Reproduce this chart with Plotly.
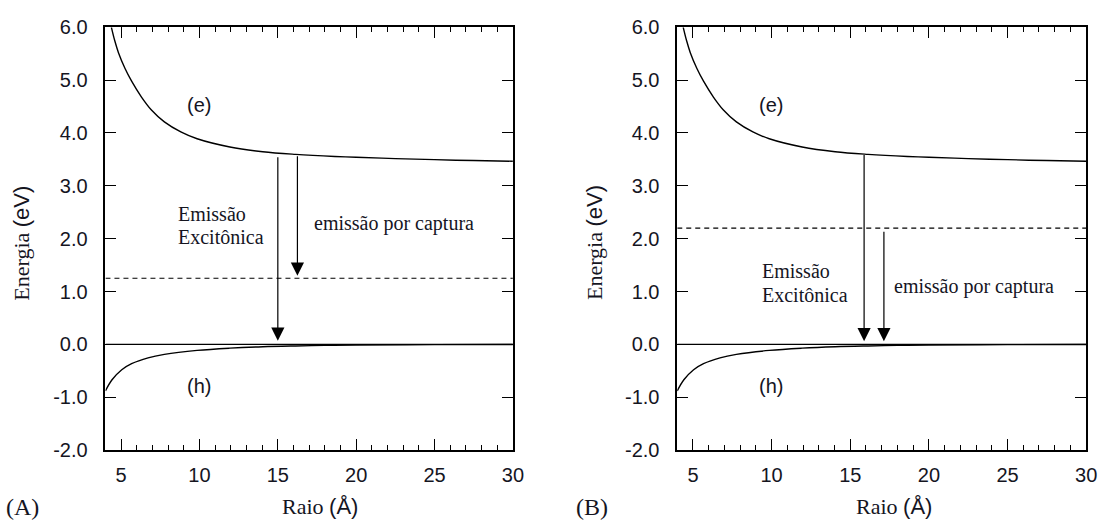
import plotly.graph_objects as go

# ---------------- data ----------------
# electron confinement energy (e) vs radius
e_radius = [4.38, 4.6, 4.83, 5.25, 5.67, 6.3, 6.92, 7.76, 8.81, 9.85, 11.94, 14.04,
            16.13, 18.64, 20.0, 22.5, 25.0, 27.5, 30.0]
e_energy = [6.0, 5.74, 5.52, 5.22, 4.98, 4.68, 4.44, 4.21, 4.02, 3.89, 3.735, 3.645,
            3.595, 3.555, 3.54, 3.515, 3.495, 3.478, 3.465]
# hole confinement energy (h) vs radius
h_radius = [4.0, 4.42, 5.04, 5.67, 6.72, 7.76, 9.85, 11.94, 14.04, 16.13, 18.0, 20.0,
            25.0, 30.0]
h_energy = [-0.88, -0.67, -0.48, -0.365, -0.255, -0.19, -0.115, -0.072, -0.045, -0.03,
            -0.02, -0.013, -0.006, -0.003]

# trap level (dashed) per panel
trap_level = [1.25, 2.2]
# arrows per panel: x, start energy, end energy
exc_arrow_x = [15.0, 15.88]
exc_arrow_from = [3.57, 3.61]
exc_arrow_to = [0.07, 0.06]
cap_arrow_x = [16.25, 17.14]
cap_arrow_from = [3.59, 2.16]
cap_arrow_to = [1.3, 0.06]

panel_labels = ["(A)", "(B)"]
x_range = [4, 30]
y_range = [-2, 6]
x_tick_vals = [5, 10, 15, 20, 25, 30]
y_tick_vals = [-2, -1, 0, 1, 2, 3, 4, 5, 6]
y_tick_text = ["-2.0", "-1.0", "0.0", "1.0", "2.0", "3.0", "4.0", "5.0", "6.0"]

# ---------------- layout geometry ----------------
W, H = 1115, 531
x_domains = [[106.5 / W, 518 / W], [684 / W, 1097 / W]]
y_domain = [1 - 458 / H, 1 - 17 / H]

INK = "#15151f"
SANS = "Liberation Sans, Arial, sans-serif"
SERIF = "Liberation Serif, Times New Roman, serif"

fig = go.Figure()
annotations = []

for i in range(2):
    xa = "x" if i == 0 else "x2"
    ya = "y" if i == 0 else "y2"
    fig.add_trace(go.Scatter(x=x_range, y=[0, 0], mode="lines", xaxis=xa, yaxis=ya,
                             line=dict(color="black", width=1.1), showlegend=False, hoverinfo="skip"))
    fig.add_trace(go.Scatter(x=x_range, y=[trap_level[i], trap_level[i]], mode="lines", xaxis=xa, yaxis=ya,
                             line=dict(color="black", width=1.1, dash="5px,4px"), showlegend=False,
                             hoverinfo="skip"))
    fig.add_trace(go.Scatter(x=e_radius, y=e_energy, mode="lines", xaxis=xa, yaxis=ya,
                             line=dict(color="black", width=1.4, shape="spline", smoothing=1.0),
                             showlegend=False, hoverinfo="skip"))
    fig.add_trace(go.Scatter(x=h_radius, y=h_energy, mode="lines", xaxis=xa, yaxis=ya,
                             line=dict(color="black", width=1.4, shape="spline", smoothing=1.0),
                             showlegend=False, hoverinfo="skip"))

    for ax_x, y0, y1 in [(exc_arrow_x[i], exc_arrow_from[i], exc_arrow_to[i]),
                         (cap_arrow_x[i], cap_arrow_from[i], cap_arrow_to[i])]:
        annotations.append(dict(x=ax_x, y=y1, ax=ax_x, ay=y0, xref=xa, yref=ya, axref=xa, ayref=ya,
                                text="", showarrow=True, arrowhead=2, arrowsize=2.2, arrowwidth=1.2,
                                arrowcolor="black", standoff=0, startstandoff=0))

    annotations.append(dict(x=9.95, y=4.53, xref=xa, yref=ya, text="(e)", showarrow=False,
                            font=dict(family=SANS, size=20, color=INK)))
    annotations.append(dict(x=9.95, y=-0.78, xref=xa, yref=ya, text="(h)", showarrow=False,
                            font=dict(family=SANS, size=20, color=INK)))

annotations += [
    dict(x=178 / W, y=1 - 212 / H, xref="paper", yref="paper", xanchor="left", yanchor="middle",
         text="Emissão", showarrow=False, font=dict(family=SERIF, size=20, color=INK)),
    dict(x=178 / W, y=1 - 236 / H, xref="paper", yref="paper", xanchor="left", yanchor="middle",
         text="Excitônica", showarrow=False, font=dict(family=SERIF, size=20, color=INK)),
    dict(x=315 / W, y=1 - 222 / H, xref="paper", yref="paper", xanchor="left", yanchor="middle",
         text="emissão por captura", showarrow=False, font=dict(family=SERIF, size=20, color=INK)),
    dict(x=768 / W, y=1 - 271 / H, xref="paper", yref="paper", xanchor="left", yanchor="middle",
         text="Emissão", showarrow=False, font=dict(family=SERIF, size=20, color=INK)),
    dict(x=768 / W, y=1 - 296 / H, xref="paper", yref="paper", xanchor="left", yanchor="middle",
         text="Excitônica", showarrow=False, font=dict(family=SERIF, size=20, color=INK)),
    dict(x=901 / W, y=1 - 287 / H, xref="paper", yref="paper", xanchor="left", yanchor="middle",
         text="emissão por captura", showarrow=False, font=dict(family=SERIF, size=20, color=INK)),
]

for i in range(2):
    annotations.append(dict(x=[323, 903][i] / W, y=1 - 517 / H, xref="paper", yref="paper",
                            xanchor="center", yanchor="middle", showarrow=False,
                            text='Raio <span style="font-family:Liberation Sans, Arial">(Å)</span>',
                            font=dict(family=SERIF, size=22, color=INK)))
    annotations.append(dict(x=[22, 601][i] / W, y=1 - 242 / H, xref="paper", yref="paper",
                            xanchor="center", yanchor="middle", showarrow=False, textangle=-90,
                            text='Energia <span style="font-family:Liberation Sans, Arial">(eV)</span>',
                            font=dict(family=SERIF, size=22, color=INK)))
    annotations.append(dict(x=[4, 580][i] / W, y=1 - 517 / H, xref="paper", yref="paper",
                            xanchor="left", yanchor="middle", showarrow=False,
                            text=panel_labels[i], font=dict(family=SERIF, size=24, color=INK)))


def xaxis_cfg(dom, anchor):
    return dict(domain=dom, anchor=anchor, range=x_range, tickmode="array", tickvals=x_tick_vals,
                ticks="inside", ticklen=11, tickwidth=1.2, tickcolor="black",
                minor=dict(ticks="inside", ticklen=5, tickwidth=1.1, tickcolor="black",
                           tickmode="linear", tick0=4, dtick=1),
                showline=True, linecolor="black", linewidth=1.6, mirror="ticks",
                showgrid=False, zeroline=False, ticklabelstandoff=6,
                tickfont=dict(family=SANS, size=20, color=INK))


def yaxis_cfg(anchor):
    return dict(domain=y_domain, anchor=anchor, range=y_range, tickmode="array",
                tickvals=y_tick_vals, ticktext=y_tick_text,
                ticks="inside", ticklen=11, tickwidth=1.2, tickcolor="black",
                showline=True, linecolor="black", linewidth=1.6, mirror="ticks",
                showgrid=False, zeroline=False, ticklabelstandoff=12,
                tickfont=dict(family=SANS, size=20, color=INK))


fig.update_layout(
    width=W, height=H, margin=dict(l=0, r=0, t=0, b=0),
    paper_bgcolor="white", plot_bgcolor="white", showlegend=False,
    xaxis=xaxis_cfg(x_domains[0], "y"), yaxis=yaxis_cfg("x"),
    xaxis2=xaxis_cfg(x_domains[1], "y2"), yaxis2=yaxis_cfg("x2"),
    annotations=annotations,
)

fig.write_html("out.html",
               post_script="document.body.style.margin='0';document.body.style.overflow='hidden';")
